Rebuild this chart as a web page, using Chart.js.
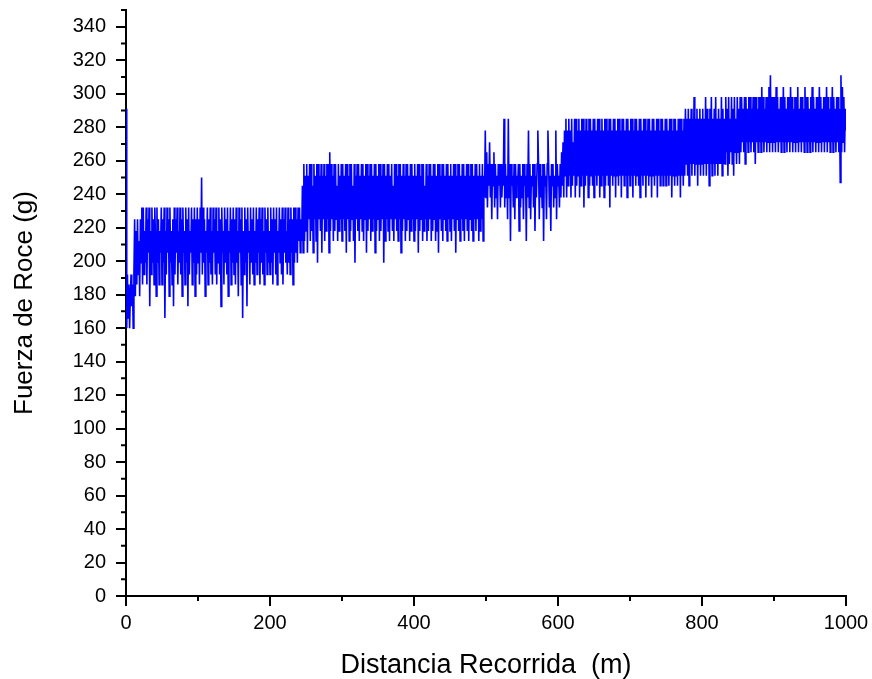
<!DOCTYPE html>
<html>
<head>
<meta charset="utf-8">
<script src="https://cdn.jsdelivr.net/npm/chart.js@4.4.0/dist/chart.umd.min.js"></script>
<style>
  body { margin: 0; background: #fff; }
</style>
</head>
<body>
<canvas id="rozamiento" width="872" height="679"></canvas>
<script>
// Fuerza de roce (g), una lectura por metro, por tramos de 250 m
const fuerza0a250 = [
  291,160,192,166,186,160,179,192,173,186,160,192,225,179,218,186,225,192,212,179,225,199,232,186,232,
  192,218,199,232,186,225,205,232,173,218,192,232,199,225,186,232,212,179,232,199,225,186,218,205,232,
  186,225,199,232,166,218,192,232,205,225,179,232,199,218,186,225,173,232,192,225,205,232,186,218,199,
  232,192,225,179,232,205,218,186,232,199,225,173,232,192,218,205,232,186,225,199,232,179,225,192,232,
  199,225,186,232,205,250,192,232,199,225,179,218,205,232,186,225,199,232,192,218,186,232,205,225,192,
  232,186,218,199,232,192,225,173,232,205,218,186,232,199,225,192,232,179,218,205,232,186,225,199,232,
  192,225,186,232,199,218,179,232,205,225,186,232,166,218,192,232,199,225,173,232,205,218,186,232,199,
  225,192,232,186,218,199,232,192,225,205,232,186,225,199,232,192,218,186,232,205,225,192,232,199,218,
  192,232,199,225,186,232,205,225,192,232,186,218,205,232,199,225,192,232,186,225,205,232,199,218,192,
  232,199,225,192,232,205,225,186,232,199,232,205,225,199,232,212,232,205,225,212,245,205,258,212,251
];

const fuerza250a500 = [
  218,258,205,251,225,258,212,258,218,245,205,258,225,251,212,258,199,258,225,251,218,258,205,251,225,
  258,212,251,218,258,225,258,205,265,218,258,225,251,212,258,218,258,225,245,212,258,218,251,225,258,
  212,258,225,251,218,258,205,258,225,251,212,258,218,258,225,245,212,258,199,251,225,258,218,258,212,
  251,225,258,218,258,212,251,225,258,205,258,218,251,225,258,212,258,218,251,225,258,205,258,218,251,
  225,258,212,258,218,251,225,258,199,258,212,251,225,258,218,258,212,251,225,258,218,245,212,258,225,
  258,218,251,212,258,225,258,205,251,218,258,225,251,212,258,218,258,225,251,212,258,218,258,225,251,
  212,258,218,251,225,258,205,258,218,251,225,258,212,258,218,245,225,258,212,251,218,258,225,258,212,
  251,218,258,225,258,212,251,218,258,205,258,225,251,218,258,212,258,225,251,218,258,212,258,225,251,
  218,258,212,251,225,258,218,258,205,251,225,258,218,258,212,251,225,258,218,258,212,251,225,258,218,
  258,212,251,225,258,218,258,212,251,225,258,218,258,225,251,212,258,218,251,225,258,212,251,238,278
];

const fuerza500a750 = [
  238,265,232,258,245,271,238,258,225,258,245,265,232,258,238,251,225,258,245,258,232,258,238,251,245,
  285,232,258,238,251,225,285,238,258,212,258,245,251,232,258,225,258,238,251,245,258,218,258,232,251,
  238,258,225,258,245,251,212,258,238,278,232,258,225,251,245,258,232,258,218,251,238,258,278,258,225,
  258,238,251,232,258,212,258,245,251,225,258,278,258,232,251,218,258,245,258,232,251,238,278,225,258,
  245,251,232,258,238,265,245,271,238,278,251,285,238,278,245,285,251,278,238,285,245,271,251,285,238,
  285,245,278,251,285,238,278,245,285,251,285,232,278,245,285,251,278,238,285,245,285,251,278,245,285,
  238,285,251,278,245,285,251,285,238,278,245,285,251,278,238,285,245,285,251,278,245,285,232,285,251,
  278,245,285,251,285,238,278,251,285,245,285,251,278,238,285,251,285,245,278,251,285,238,285,251,278,
  245,285,251,285,238,278,251,285,245,285,251,278,245,285,238,285,251,278,245,285,251,285,238,278,251,
  285,245,285,251,278,238,285,251,285,245,278,251,285,238,285,251,278,245,285,251,285,245,278,251,285
];

const fuerza750a1000 = [
  245,285,251,278,245,285,251,285,238,278,251,285,245,285,251,278,245,285,251,285,238,285,251,278,245,
  285,251,291,258,285,251,291,245,285,258,291,251,285,258,298,251,285,258,291,245,285,258,291,251,285,
  258,291,251,285,258,298,251,291,258,285,245,291,258,298,251,285,258,291,251,298,258,285,251,291,258,
  285,258,298,251,291,258,285,258,298,265,291,251,298,258,285,265,298,258,291,251,298,265,285,258,298,
  265,291,258,298,265,298,271,291,265,298,258,298,271,291,265,298,271,298,265,291,271,298,265,298,258,
  298,271,291,265,298,271,298,265,304,271,298,265,291,271,298,265,298,271,304,265,311,271,298,265,298,
  271,298,265,304,271,298,265,291,271,298,265,298,271,304,265,298,271,291,265,298,271,298,265,304,271,
  298,265,291,271,298,265,298,271,304,265,291,271,298,265,298,271,291,265,304,271,298,265,298,271,291,
  265,298,271,304,265,298,271,291,265,298,271,298,265,304,271,298,265,291,271,298,265,298,271,304,265,
  298,271,291,265,298,271,304,265,298,271,291,265,298,271,298,265,291,247,311,265,304,271,298,265,291,
  278
];

const fuerza = [].concat(fuerza0a250, fuerza250a500, fuerza500a750, fuerza750a1000);
const distanciaTotal = 1000;
const distancia = fuerza.map((v, i) => i * distanciaTotal / (fuerza.length - 1));

const ticksX = [0, 200, 400, 600, 800, 1000];
const ticksY = [0, 20, 40, 60, 80, 100, 120, 140, 160, 180, 200, 220, 240, 260, 280, 300, 320, 340];
const menoresX = [100, 300, 500, 700, 900];
const menoresY = [10, 30, 50, 70, 90, 110, 130, 150, 170, 190, 210, 230, 250, 270, 290, 310, 330, 350];

const fuente = 'Liberation Sans, Arial, sans-serif';

// marcas menores (más cortas que las principales)
const marcasMenores = {
  id: 'marcasMenores',
  afterDraw(chart) {
    const ctx = chart.ctx;
    const area = chart.chartArea;
    const x = chart.scales.x;
    const y = chart.scales.y;
    ctx.save();
    ctx.strokeStyle = '#000';
    ctx.lineWidth = 2;
    ctx.beginPath();
    menoresX.forEach(v => {
      const px = x.getPixelForValue(v);
      ctx.moveTo(px, area.bottom);
      ctx.lineTo(px, area.bottom + 5);
    });
    menoresY.forEach(v => {
      const py = y.getPixelForValue(v);
      ctx.moveTo(area.left - 5, py);
      ctx.lineTo(area.left, py);
    });
    ctx.stroke();
    ctx.restore();
  }
};

new Chart(document.getElementById('rozamiento'), {
  type: 'line',
  data: {
    datasets: [{
      label: 'Fuerza de Roce',
      data: distancia.map((d, i) => ({ x: d, y: fuerza[i] })),
      borderColor: '#0000ff',
      borderWidth: 1.6,
      pointRadius: 0,
      tension: 0,
      fill: false
    }]
  },
  options: {
    responsive: false,
    animation: false,
    layout: { padding: { left: 0, top: 10, right: 26, bottom: 0 } },
    plugins: {
      legend: { display: false },
      tooltip: { enabled: false }
    },
    scales: {
      x: {
        type: 'linear',
        min: 0,
        max: 1000,
        afterBuildTicks: s => { s.ticks = ticksX.map(v => ({ value: v })); },
        afterFit: s => { s.height = 83; s.paddingLeft = 0; s.paddingRight = 0; },
        ticks: {
          color: '#000',
          font: { family: fuente, size: 20 },
          padding: 5,
          maxRotation: 0,
          autoSkip: false,
          callback: v => String(v)
        },
        grid: { drawOnChartArea: false, color: '#000', lineWidth: 2, tickLength: 10 },
        border: { display: true, color: '#000', width: 2 },
        title: {
          display: true,
          text: 'Distancia Recorrida  (m)',
          color: '#000',
          font: { family: fuente, size: 27, lineHeight: 1 },
          padding: { top: 0, bottom: 0 }
        }
      },
      y: {
        type: 'linear',
        min: 0,
        max: 350,
        afterBuildTicks: s => { s.ticks = ticksY.map(v => ({ value: v })); },
        afterFit: s => { s.width = 126; s.paddingTop = 0; s.paddingBottom = 0; },
        ticks: {
          color: '#000',
          font: { family: fuente, size: 20 },
          padding: 10
        },
        grid: { drawOnChartArea: false, color: '#000', lineWidth: 2, tickLength: 10 },
        border: { display: true, color: '#000', width: 2 },
        title: {
          display: true,
          text: 'Fuerza de Roce (g)',
          color: '#000',
          font: { family: fuente, size: 26, lineHeight: 1 },
          padding: { top: 12, bottom: 0 }
        }
      }
    }
  },
  plugins: [marcasMenores]
});
</script>
</body>
</html>
